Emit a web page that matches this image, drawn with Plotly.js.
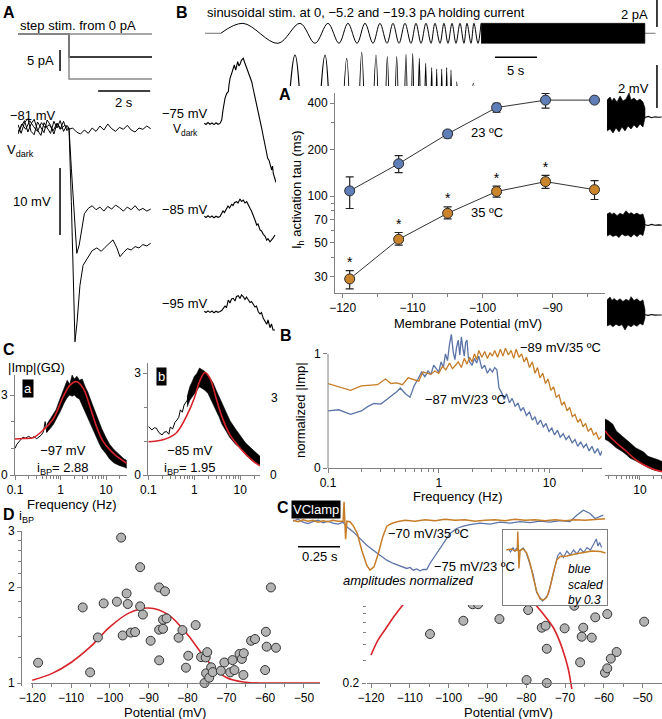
<!DOCTYPE html>
<html><head><meta charset="utf-8">
<script src="https://cdn.plot.ly/plotly-3.0.1.min.js"></script>
<style>html,body{margin:0;padding:0;background:#fff}#fig{width:662px;height:719px}</style>
</head><body><div id="fig"></div>
<script>
// ---------------- DATA ----------------
// A: step stimulus (s, pA)
const stepT = [0, 1.96, 1.96, 5.15];
const stepLevels = [0, -5.5, -10.7];
// A: voltage responses (s, mV)
const a1T = [0,0.15,0.3,0.45,0.6,0.75,0.9,1.05,1.2,1.35,1.5,1.65,1.8,1.95,2.1,2.25,2.4,2.55,2.7,2.85,3.0,3.15,3.3,3.45,3.6,3.75,3.9,4.05,4.2,4.35,4.5,4.65,4.8,4.95,5.1];
const a1V = [-81.6,-80.4,-81.2,-79.9,-80.8,-81.5,-80.2,-81.0,-80.5,-81.4,-80.3,-81.1,-80.6,-81.2,-81.0,-81.6,-81.9,-81.3,-81.8,-81.0,-81.5,-80.7,-81.3,-80.4,-81.1,-81.5,-80.9,-81.2,-80.6,-81.3,-81.6,-81.0,-81.2,-80.7,-81.1];
const a2T = [0,0.12,0.25,0.38,0.5,0.62,0.75,0.88,1.0,1.12,1.25,1.38,1.5,1.62,1.75,1.88,1.96,2.05,2.15,2.26,2.35,2.45,2.55,2.7,2.85,3.0,3.15,3.3,3.45,3.6,3.75,3.9,4.05,4.2,4.35,4.5,4.65,4.8,4.95,5.1];
const a2V = [-80.5,-81.8,-80.2,-79.6,-81.5,-82.0,-80.1,-80.9,-81.7,-79.8,-80.6,-81.9,-80.3,-81.2,-80.0,-81.4,-81,-87,-94,-99.7,-98.5,-96,-93.8,-93.0,-92.6,-93.2,-92.8,-93.4,-92.7,-93.1,-92.5,-92.9,-93.4,-92.8,-93.2,-92.6,-93.3,-93.0,-93.4,-93.1];
const a3T = [0,0.12,0.25,0.38,0.5,0.62,0.75,0.88,1.0,1.12,1.25,1.38,1.5,1.62,1.75,1.88,1.96,2.05,2.12,2.19,2.27,2.38,2.5,2.7,2.85,3.03,3.2,3.35,3.5,3.65,3.8,3.92,4.05,4.2,4.35,4.5,4.65,4.8,4.95,5.1];
const a3V = [-81.9,-80.8,-79.9,-81.6,-80.4,-79.7,-81.3,-82.1,-80.2,-80.9,-81.8,-80.0,-81.0,-79.9,-81.5,-80.6,-81,-92,-104,-112.9,-110,-104.5,-101.5,-100.2,-99.3,-98.9,-99.4,-98.8,-98.2,-97.7,-98.9,-100.2,-99.6,-99.0,-99.2,-98.7,-98.9,-98.4,-98.6,-98.2];

// B: chirp stimulus, extrema times (s) and amplitude (pA)
const chirpT = [0,2.65,6.82,9.44,11.23,12.77,14.08,15.15,16.23,17.18,18.13,18.96,19.80,20.51,21.23,21.94,22.65,23.25,23.85,24.44,25.04,25.51,26.11,26.58,27.06,27.54,28.01,28.49,28.96,29.32,29.80,30.15,30.63,30.99];
const chirpAmp = 0.74;
const chirpBand = [31.0, 50.5];
const chirpPre = [-1.87, 0];
const chirpPost = [50.5, 51.76];

// B: voltage responses (s, mV change from resting level)
const b75T = [-1.952,-1.75,-1.512,-1.274,-1.036,-0.798,-0.56,-0.321,-0.083,0.119,0.274,0.512,0.714,0.905,0.988,1.107,1.31,1.464,1.619,1.786,2.024,2.179,2.298,2.476,2.69,2.833,2.976,3.131,3.286,3.488,3.69,3.845,4.083,4.262,4.476,4.679,4.881,5.036,5.274,5.452,5.595,5.75,5.869,5.988,6.071,6.167,6.262,6.405,6.548,
  7.0,8.845,10.6,12.417,13.7,15.0,15.9,16.786,17.6,18.488,19.2,19.833,20.4,20.952,21.5,22.06,22.45,22.857,23.25,23.643,24.0,24.405,24.76,25.119,25.42,25.714,26.01,26.31,26.6,26.905,27.16,27.417,27.75,28.095,29.0,30.07,31.0];
const b75V = [0.009,-0.047,0.042,-0.033,0.023,-0.051,0.033,-0.037,0.005,0.163,0.628,1.172,1.405,1.479,1.791,2.102,2.335,2.535,2.721,2.488,2.874,2.674,2.753,2.953,3.033,2.86,2.721,2.535,2.409,2.163,1.944,1.651,1.246,0.907,0.474,0.163,-0.224,-0.535,-1.0,-1.233,-1.619,-1.707,-1.86,-2.07,-2.163,-1.977,-2.326,-2.512,-2.698,
  -3.0,3.186,-5,3.186,-5,3.031,-5,3.31,-5,3.186,-5,3.109,-5,3.109,-5,3.217,-5,3.264,-5,3.031,-5,2.8,-5,2.597,-5,2.535,-5,2.535,-5,2.597,-5,2.488,-5,1.944,-5,1.87,-5];
const b85T = [-1.952,-1.75,-1.512,-1.274,-1.036,-0.798,-0.56,-0.321,-0.083,0.119,0.274,0.452,0.714,0.869,1.048,1.31,1.464,1.643,1.905,2.06,2.298,2.476,2.69,2.893,3.095,3.25,3.488,3.667,3.881,4.083,4.286,4.44,4.679,4.857,5.071,5.274,5.476,5.631,5.869,6.048,6.226,6.464];
const b85V = [0.019,-0.037,0.042,-0.033,0.033,-0.051,0.023,-0.028,0.009,0.158,0.265,0.195,0.391,0.498,0.405,0.577,0.521,0.66,0.698,0.637,0.823,0.707,0.777,0.637,0.698,0.544,0.391,0.265,0.079,-0.153,-0.386,-0.34,-0.619,-0.665,-0.819,-0.898,-1.088,-1.019,-1.167,-1.088,-0.995,-0.851];
const b95T = [-1.952,-1.75,-1.512,-1.274,-1.036,-0.798,-0.56,-0.321,-0.083,0.119,0.31,0.512,0.69,0.905,1.107,1.286,1.5,1.702,1.881,2.095,2.298,2.476,2.69,2.893,3.071,3.286,3.488,3.667,3.881,4.083,4.262,4.476,4.679,4.857,5.071,5.274,5.476,5.631,5.869,6.048,6.226,6.464];
const b95V = [0.019,-0.037,0.037,-0.033,0.033,-0.051,0.023,-0.028,0.009,0.056,0.158,0.265,0.195,0.544,0.405,0.591,0.623,0.498,0.707,0.744,0.614,0.777,0.698,0.567,0.684,0.544,0.428,0.474,0.312,0.219,0.265,0.0,-0.107,-0.037,-0.307,-0.479,-0.586,-0.386,-0.744,-0.572,-0.851,-0.851];
// end of the responses: noise envelope (s, mV)
const endUpT = [45.99,46.35,46.58,46.82,47.18,47.54,47.89,48.25,48.61,48.85,49.2,49.56,49.92,50.27,50.51];
const endLoT = [50.51,50.27,49.92,49.56,49.2,48.85,48.49,48.13,47.77,47.42,47.06,46.7,46.35,45.99];
const end75Up = [1.093,1.233,1.047,1.186,1.0,1.279,1.047,1.14,1.419,1.093,1.186,1.047,1.14,1.0,0.721];
const end75Lo = [0.256,-0.163,-0.023,-0.209,-0.07,-0.256,-0.116,-0.349,-0.163,-0.395,-0.209,-0.442,-0.256,-0.349];
const end85Up = [0.12,0.2,0.1,0.18,0.05,0.16,0.09,0.28,0.12,0.19,0.1,0.17,0.08,0.13,-0.2];
const end85Lo = [-0.5,-0.88,-0.8,-0.93,-0.82,-0.95,-0.85,-0.9,-0.8,-0.97,-0.86,-0.92,-0.83,-0.9];
const end95Up = [0.55,0.68,0.52,0.62,0.5,0.6,0.48,0.58,0.5,0.7,0.52,0.6,0.47,0.55,0.1];
const end95Lo = [-0.3,-0.62,-0.55,-0.68,-0.6,-0.7,-0.62,-0.85,-0.6,-0.66,-0.58,-0.7,-0.6,-0.66];
const tailT = [50.51,50.9,51.3,51.7,52.1,52.5];
const tail75 = [0.28,0.33,0.27,0.31,0.29,0.3];
const tail85 = [-0.37,-0.41,-0.36,-0.4,-0.38,-0.39];
const tail95 = [-0.14,-0.17,-0.13,-0.16,-0.15,-0.15];

// overlay A: Ih activation tau
const tauV = [-119,-112,-105,-98,-91,-84];
const tau23 = [108,162,253,375,419,419];
const tau23ep = [25,21,13,25,45,0];
const tau23em = [25,20,15,25,47,0];
const tau35 = [29,52.4,77.3,107,124,110];
const tau35ep = [3.8,5.6,7.7,9,12,16];
const tau35em = [4,4.4,6.3,8.5,12,15];
const starIdx = [0,1,2,3,4];

// overlay B: normalized |Imp|
const impF35 = [0.1,0.125,0.16,0.2,0.25,0.28,0.33,0.37,0.42,0.47,0.53,0.6,0.66,0.72,0.78,0.85,0.92,1.0,1.08,1.16,1.25,1.33,1.42,1.5,1.6,1.7,1.8,1.9,2.0,2.1,2.2,2.3,2.45,2.6,2.75,2.9,3.05,3.2,3.4,3.6,3.8,4.0,4.25,4.5,4.75,5.0,5.3,5.6,5.9,6.2,6.6,7.0,7.4,7.8,8.2,8.7,9.2,9.7,10.3,10.9,11.5,12.2,12.9,13.6,14.4,15.2,16.1,17.0,18.0,19.0,20.1,21.2,22.4,23.7,25.0,26.4,27.9,29.5];
const imp35 = [0.74,0.71,0.68,0.72,0.725,0.73,0.78,0.74,0.745,0.73,0.79,0.77,0.76,0.84,0.83,0.82,0.85,0.83,0.89,0.86,0.92,0.87,0.9,0.93,0.88,0.96,0.91,0.97,0.93,1.0,0.95,1.03,0.97,1.02,0.96,1.01,0.98,1.03,0.97,1.04,0.98,1.05,0.99,1.03,0.96,1.04,0.97,1.0,0.93,0.97,0.88,0.93,0.83,0.88,0.79,0.83,0.74,0.78,0.68,0.71,0.62,0.64,0.55,0.58,0.5,0.53,0.45,0.47,0.4,0.43,0.36,0.39,0.32,0.35,0.29,0.31,0.25,0.28];
const impF23 = [0.1,0.125,0.16,0.2,0.23,0.26,0.3,0.34,0.38,0.42,0.45,0.5,0.55,0.6,0.65,0.7,0.75,0.8,0.85,0.9,0.95,1.0,1.05,1.1,1.15,1.2,1.25,1.3,1.35,1.4,1.45,1.5,1.55,1.6,1.65,1.7,1.75,1.8,1.85,1.9,2.0,2.1,2.2,2.3,2.45,2.6,2.75,2.9,3.05,3.2,3.35,3.5,3.7,3.9,4.1,4.35,4.6,4.9,5.2,5.5,5.8,6.2,6.6,7.0,7.4,7.8,8.3,8.8,9.3,9.9,10.5,11.1,11.8,12.5,13.3,14.1,15.0,16.0,17.0,18.0,19.1,20.3,21.5,22.8,24.2,25.6,27.2,28.8,29.8];
const imp23 = [0.5,0.51,0.47,0.5,0.54,0.565,0.56,0.6,0.64,0.67,0.7,0.65,0.62,0.72,0.78,0.84,0.8,0.85,0.82,0.9,0.87,0.84,0.93,0.88,1.0,0.94,1.08,1.17,1.02,0.95,1.06,1.12,0.99,1.15,1.05,0.98,1.1,1.12,0.97,0.93,0.9,0.96,0.92,0.98,0.87,0.9,0.83,0.87,0.84,0.88,0.86,0.7,0.66,0.6,0.65,0.57,0.61,0.54,0.57,0.5,0.53,0.46,0.49,0.42,0.45,0.38,0.42,0.36,0.39,0.32,0.35,0.29,0.33,0.27,0.3,0.25,0.28,0.22,0.25,0.19,0.23,0.18,0.21,0.15,0.19,0.13,0.17,0.11,0.15];

// overlay C: voltage clamp currents (s, normalized amplitude)
const vc35T = [0,0.030,0.060,0.089,0.119,0.149,0.179,0.208,0.238,0.268,0.298,0.304,0.313,0.321,0.339,0.359,0.383,0.409,0.439,0.458,0.482,0.508,0.534,0.558,0.587,0.619,0.667,0.726,0.786,0.845,0.905,0.964,1.024,1.083,1.143,1.202,1.262,1.321,1.381,1.44,1.5,1.56,1.619,1.679,1.738,1.798,1.857];
const vc35 = [0.014,-0.016,0.024,-0.006,0.014,-0.027,0.004,-0.016,0.014,-0.006,-0.006,0.388,-0.373,-0.006,-0.016,-0.102,-0.257,-0.598,-0.904,-1.006,-0.939,-0.665,-0.327,-0.108,-0.053,-0.016,0.014,-0.006,0.024,0.004,0.035,0.014,0.024,-0.006,0.014,0.024,0.004,0.035,0.014,0.024,0.004,0.024,0.004,0.024,0.014,0.035,0.045];
const vc23T = [0,0.03,0.06,0.089,0.119,0.149,0.179,0.208,0.238,0.268,0.298,0.32,0.359,0.399,0.439,0.478,0.518,0.558,0.597,0.637,0.677,0.697,0.716,0.736,0.756,0.776,0.796,0.815,0.855,0.895,0.935,0.974,1.014,1.054,1.113,1.173,1.232,1.292,1.351,1.411,1.47,1.53,1.589,1.649,1.689,1.728,1.768,1.798,1.827,1.847];
const vc23 = [-0.006,0.035,-0.027,-0.057,-0.016,0.014,-0.037,-0.006,-0.047,-0.067,-0.027,-0.122,-0.224,-0.359,-0.496,-0.598,-0.7,-0.802,-0.869,-0.924,-0.971,-0.95,-1.006,-0.98,-1.02,-0.99,-0.992,-0.869,-0.665,-0.461,-0.257,-0.155,-0.108,-0.078,-0.047,-0.067,-0.027,-0.047,-0.016,-0.037,-0.006,-0.027,0.004,-0.016,0.116,0.218,0.151,0.049,0.082,0.116];
const inT35 = [0.24,0.27,0.29,0.305,0.308,0.315,0.322,0.34,0.36,0.38,0.40,0.42,0.44,0.46,0.48,0.50,0.52,0.54,0.56,0.6,0.65,0.7,0.75,0.8,0.83];
const in35 = [0.0,0.02,-0.02,0.0,0.37,-0.37,0.0,0.02,-0.05,-0.25,-0.55,-0.82,-0.98,-1.0,-0.95,-0.75,-0.45,-0.2,-0.13,-0.12,-0.08,-0.05,-0.02,-0.03,-0.06];
const inT23 = [0.252,0.265,0.28,0.29,0.3,0.32,0.34,0.36,0.38,0.4,0.42,0.44,0.455,0.47,0.49,0.51,0.53,0.545,0.56,0.58,0.6,0.62,0.64,0.66,0.68,0.7,0.72,0.74,0.76,0.775,0.785,0.795,0.807];
const in23 = [0.02,-0.04,0.05,-0.03,0.03,-0.02,0.04,-0.07,-0.28,-0.5,-0.85,-0.96,-1.02,-0.97,-0.88,-0.6,-0.35,-0.12,-0.05,-0.15,-0.02,-0.1,0.0,-0.08,0.03,-0.05,0.05,0.0,0.12,0.22,0.08,0.15,0.05];

// C: impedance profiles (Hz, GOhm)
const caLineF = [0.1,0.11,0.13,0.15,0.17,0.2,0.23,0.26,0.3,0.34,0.38,0.42,0.46,0.5,0.55];
const caLine = [1.0,1.15,1.3,1.42,1.38,1.45,1.38,1.44,1.36,1.42,1.5,1.62,2.0,1.6,1.9];
const caBandF = [0.5,0.6,0.7,0.8,0.9,1.0,1.2,1.4,1.6,1.8,2.0,2.3,2.6,3.0,3.5,4.0,5.0,6.0,7.0,8.0,10,12,15,20,25,28.5];
const caUp = [1.9,2.1,2.3,2.45,2.7,2.9,3.2,3.55,3.4,3.75,3.6,3.7,3.55,3.6,3.3,3.1,2.65,2.3,2.0,1.75,1.4,1.15,0.95,0.75,0.6,0.55];
const caLo = [1.6,1.75,1.9,2.05,2.25,2.4,2.7,2.9,3.0,2.95,3.0,2.9,2.85,2.6,2.35,2.1,1.75,1.45,1.2,1.0,0.8,0.6,0.45,0.35,0.3,0.25];
const caFitF = [0.1,0.15,0.25,0.42,0.7,1.15,1.62,2.26,3.17,4.45,6.2,8.7,14.5,28.5];
const caFit = [1.35,1.37,1.4,1.69,2.12,2.94,3.37,3.5,3.25,2.56,1.81,1.25,0.81,0.44];
const cbLineF = [0.1,0.11,0.12,0.135,0.15,0.17,0.2,0.22,0.25,0.28,0.3,0.34,0.38,0.42,0.46,0.5,0.55,0.6,0.7,0.8];
const cbLine = [1.43,1.37,1.33,1.39,1.38,1.25,1.18,1.26,1.28,1.2,1.41,1.36,1.55,1.62,1.7,1.92,1.85,2.06,2.2,2.5];
const cbBandF = [0.7,0.8,0.9,1.0,1.15,1.3,1.5,1.7,2.0,2.2,2.6,3.0,3.5,4.0,5.0,6.0,8.0,10,13,17,22,27];
const cbUp = [2.3,2.6,2.75,2.9,3.0,3.15,3.1,3.05,2.95,2.85,2.7,2.5,2.3,2.1,1.85,1.6,1.35,1.15,0.95,0.8,0.65,0.55];
const cbLo = [2.0,2.2,2.3,2.4,2.5,2.6,2.55,2.5,2.4,2.3,2.1,1.9,1.7,1.5,1.3,1.1,0.9,0.8,0.6,0.45,0.35,0.3];
const cbFitF = [0.1,0.2,0.4,0.7,1.0,1.3,1.7,2.2,3,4,6,10,20,27];
const cbFit = [0.98,1.03,1.23,1.77,2.26,2.75,3.02,2.85,2.26,1.72,1.18,0.79,0.39,0.27];
const ccBandF = [1.69,2,2.5,3,4,5,6,8,10,12,15,20,25,30.6];
const ccUp = [1.65,1.6,1.5,1.3,1.15,1.05,0.95,0.8,0.72,0.68,0.55,0.5,0.45,0.4];
const ccLo = [1.05,1.0,0.9,0.8,0.7,0.6,0.5,0.42,0.35,0.28,0.22,0.15,0.12,0.1];
const ccFitF = [1.7,2,3,5,8,12,20,30.6];
const ccFit = [1.3,1.18,0.95,0.7,0.45,0.3,0.17,0.1];

// D: band-pass index vs potential
const dV = [-118.5,-107.0,-105.1,-103.1,-101.6,-98.2,-95.7,-95.4,-96.7,-94.6,-93.5,-92.2,-91.5,-89.5,-87.3,-85.8,-87.3,-86.3,-86.3,-85.4,-87.3,-82.3,-81.3,-77.9,-79.8,-80.4,-76.5,-75.3,-74.9,-75.2,-75.6,-74.4,-73.9,-73.5,-71.4,-70.5,-69.0,-68.4,-67.9,-66.6,-66.0,-65.5,-65.6,-63.6,-62.6,-60.0,-59.8,-59.6,-58.5,-57.2,-97.1,-92.2];
const dI = [1.158,1.727,1.080,1.39,1.778,1.80,1.91,1.77,1.41,1.44,1.445,1.74,1.64,1.357,1.995,1.94,1.47,1.48,1.58,1.595,1.178,1.387,1.466,1.52,1.218,1.117,1.206,1.203,1.25,1.072,1.0,1.039,1.12,1.082,1.093,1.16,1.08,1.18,1.098,1.233,1.19,1.24,1.06,1.357,1.374,1.098,1.448,1.30,1.995,1.29,2.86,2.31];
const dFitV = [-120,-115,-110,-105,-100,-95,-90,-85,-80,-75,-70,-65,-60,-55,-50,-45];
const dFit = [1.02,1.07,1.16,1.30,1.50,1.66,1.72,1.64,1.42,1.18,1.04,1.005,1.0,1.0,1.0,1.0];
const d2V = [-104.8,-96.2,-86.9,-79.9,-79.5,-76.0,-75.0,-74.7,-74.7,-70.1,-66.1,-65.3,-65.7,-63.1,-62.2,-59.1,-59.7,-59.1,-58.2,-56.7,-49.6,-93.8,-92.4,-67.6];
const d2Y = [0.486,0.618,0.638,0.211,0.751,0.545,0.565,0.372,0.2,0.539,0.291,0.545,0.463,0.455,0.658,0.698,0.241,0.261,0.311,0.351,0.608,0.834,0.834,0.812];
const d2FitLV = [-120,-118.2,-116.1,-113.8,-112.0,-110];
const d2FitL = [0.332,0.436,0.542,0.686,0.808,0.95];
const d2FitRV = [-79,-77.3,-75.2,-73.1,-71.3,-70.0,-69.1,-68.5,-68];
const d2FitR = [0.95,0.808,0.674,0.552,0.42,0.32,0.253,0.2,0.16];

// ---------------- LAYOUT HELPERS ----------------
const W = 662, H = 719;
const FONT = 'Liberation Sans, Arial, Helvetica, sans-serif';
const px = x => x / W, py = y => 1 - y / H;
const GRAY = '#808080', BLUE = '#5b74a8', ORANGE = '#c67d27', RED = '#d8232a';
const layout = {width: W, height: H, margin: {l:0, r:0, t:0, b:0}, paper_bgcolor: '#fff', plot_bgcolor: 'rgba(0,0,0,0)',
  showlegend: false, font: {family: FONT, size: 12, color: '#000'}, annotations: [], shapes: []};
const data = [];
let nAx = 0;
function axis(xr, yr, xo, yo) {
  nAx++; const k = nAx === 1 ? '' : String(nAx);
  layout['xaxis' + k] = Object.assign({domain: [px(xr[0]), px(xr[1])], anchor: 'y' + k, showgrid: false, zeroline: false, fixedrange: true}, xo);
  layout['yaxis' + k] = Object.assign({domain: [py(yr[1]), py(yr[0])], anchor: 'x' + k, showgrid: false, zeroline: false, fixedrange: true}, yo);
  return {x: 'x' + k, y: 'y' + k};
}
const hid = {visible: false};
const sty = {showline: true, linecolor: GRAY, linewidth: 1, ticks: 'outside', tickcolor: GRAY, ticklen: 4, tickwidth: 1, tickfont: {size: 12, family: FONT}};
const minorT = v => ({tickvals: v, ticks: 'outside', ticklen: 3, tickcolor: GRAY, tickwidth: 1});
function line(ax, x, y, color, width, extra) {
  data.push(Object.assign({type: 'scatter', mode: 'lines', x: x, y: y, xaxis: ax.x, yaxis: ax.y, hoverinfo: 'skip',
    line: {color: color, width: width || 1}}, extra || {}));
}
function band(ax, fu, up, fl, lo, color) {
  data.push({type: 'scatter', mode: 'lines', x: fu.concat(fl), y: up.concat(lo), fill: 'toself', fillcolor: color,
    line: {color: color, width: 0.6}, xaxis: ax.x, yaxis: ax.y, hoverinfo: 'skip'});
}
const rev = a => a.slice().reverse();
function ann(text, x, y, o) {
  layout.annotations.push(Object.assign({text: text, x: px(x), y: py(y), xref: 'paper', yref: 'paper', showarrow: false,
    xanchor: 'left', yanchor: 'middle', font: {size: 13, family: FONT, color: '#000'}}, o || {}));
}
const bold = {font: {size: 16, family: FONT, color: '#000', weight: 'bold'}};
function seg(ax, x0, y0, x1, y1, color, width) {
  layout.shapes.push({type: 'line', xref: ax.x, yref: ax.y, x0: x0, y0: y0, x1: x1, y1: y1, line: {color: color || '#000', width: width || 1.5}});
}

// ---------------- PANEL A (step) ----------------
const aStim = axis([18, 152], [20, 96], Object.assign({range: [0, 5.15]}, hid), Object.assign({range: [-14.76, 3.33]}, hid));
line(aStim, stepT, [0, 0, stepLevels[1], stepLevels[1]], '#000', 1.5);
line(aStim, stepT, [0, 0, stepLevels[0], stepLevels[0]], '#8a8a8a', 1.5);
line(aStim, stepT, [0, 0, stepLevels[2], stepLevels[2]], '#8a8a8a', 1.5);
seg(aStim, 1.615, -3.8, 1.615, -8.8, '#000', 1.5);
seg(aStim, 3.08, -13.57, 5.08, -13.57, '#000', 1.5);
const aV = axis([18, 152], [100, 350], Object.assign({range: [0, 5.15]}, hid), Object.assign({range: [-114.13, -76.82]}, hid));
line(aV, a1T, a1V, '#000', 1);
line(aV, a2T, a2V, '#000', 1);
line(aV, a3T, a3V, '#000', 1);
seg(aV, 1.615, -86.97, 1.615, -96.97, '#000', 1.5);
ann('<b>A</b>', 1, 12, bold);
ann('step stim. from 0 pA', 18, 26);
ann('5 pA', 56, 60, {xanchor: 'right'});
ann('2 s', 124, 103, {xanchor: 'center'});
ann('−81 mV', 8, 116);
ann('V<sub>dark</sub>', 5, 151);
ann('10 mV', 53, 202, {xanchor: 'right'});

// ---------------- PANEL B (sinusoidal) ----------------
const bStim = axis([205, 662], [0, 52], Object.assign({range: [-1.87, 52.54]}, hid), Object.assign({range: [-1.385, 2.47]}, hid));
line(bStim, chirpPre, [0, 0], '#8a8a8a', 1.2);
line(bStim, chirpPost, [0, 0], '#8a8a8a', 1.2);
line(bStim, chirpT, chirpT.map((t, i) => i === 0 ? 0 : (i % 2 ? chirpAmp : -chirpAmp)), '#000', 1, {line: {color: '#000', width: 1, shape: 'spline', smoothing: 1}});
band(bStim, [chirpBand[0], chirpBand[1]], [chirpAmp, chirpAmp], [chirpBand[1], chirpBand[0]], [-chirpAmp, -chirpAmp], '#000');
seg(bStim, 51.94, 2.47, 51.94, 0.47, '#000', 1.5);
ann('<b>B</b>', 174, 13, bold);
ann('sinusoidal stim. at 0, −5.2 and −19.3 pA holding current', 205, 13);
ann('2 pA', 650, 15, {xanchor: 'right'});

const off85 = (123.5 - 216.7) / 21.5, off95 = (123.5 - 311.7) / 21.5;
const bL = axis([203, 276], [45, 345], Object.assign({range: [-2.107, 6.583]}, hid), Object.assign({range: [-10.302, 3.651]}, hid));
line(bL, b75T, b75V, '#000', 1.1);
line(bL, b85T, b85V.map(v => v + off85), '#000', 1.1);
line(bL, b95T, b95V.map(v => v + off95), '#000', 1.1);
const bRow = axis([276, 605], [40, 86], Object.assign({range: [6.583, 45.75]}, hid), Object.assign({range: [1.744, 3.884]}, hid));
line(bRow, b75T, b75V, '#000', 1.1, {line: {color: '#000', width: 1.1, shape: 'spline', smoothing: 1}});
seg(bRow, 32.65, 3.08, 37.65, 3.08, '#000', 1.5);
const bR = axis([603, 662], [45, 345], Object.assign({range: [45.51, 52.54]}, hid), Object.assign({range: [-10.302, 3.651]}, hid));
band(bR, endUpT, end75Up, endLoT, end75Lo, '#000');
band(bR, endUpT, end85Up.map(v => v + off85), endLoT, end85Lo.map(v => v + off85), '#000');
band(bR, endUpT, end95Up.map(v => v + off95), endLoT, end95Lo.map(v => v + off95), '#000');
line(bR, tailT, tail75, '#000', 1.1);
line(bR, tailT, tail85.map(v => v + off85), '#000', 1.1);
line(bR, tailT, tail95.map(v => v + off95), '#000', 1.1);
seg(bR, 51.94, 2.72, 51.94, 0.72, '#000', 1.5);
ann('5 s', 516, 70, {xanchor: 'center'});
ann('2 mV', 651, 89, {xanchor: 'right'});
ann('−75 mV', 209, 114, {xanchor: 'right'});
ann('V<sub>dark</sub>', 171, 130, {font: {size: 12, family: FONT}});
ann('−85 mV', 209, 209, {xanchor: 'right'});
ann('−95 mV', 209, 304, {xanchor: 'right'});

// ---------------- C (impedance, underlying) ----------------
const ca = axis([15, 126.7], [375, 475],
  Object.assign({}, sty, {type: 'log', range: [-1, Math.log10(28.5)], tickvals: [0.1, 1, 10], ticktext: ['0.1', '1', '10'], minor: minorT([0.2,0.3,0.4,0.5,0.6,0.7,0.8,0.9,2,3,4,5,6,7,8,9,20])}),
  Object.assign({}, sty, {range: [0, 3.75], tickvals: [0, 3], ticktext: ['0', '3'], minor: minorT([1, 2])}));
line(ca, caLineF, caLine, '#000', 1);
band(ca, caBandF, caUp, rev(caBandF), rev(caLo), '#000');
line(ca, caFitF, caFit, RED, 1.6, {line: {color: RED, width: 1.6, shape: 'spline'}});
const cb = axis([148.3, 260], [363, 475],
  Object.assign({}, sty, {type: 'log', range: [-1, Math.log10(27)], tickvals: [0.1, 1, 10], ticktext: ['0.1', '1', '10'], minor: minorT([0.2,0.3,0.4,0.5,0.6,0.7,0.8,0.9,2,3,4,5,6,7,8,9,20])}),
  Object.assign({}, sty, {range: [0, 3.3], tickvals: [0, 3], ticktext: ['0', '3'], minor: minorT([1, 2])}));
line(cb, cbLineF, cbLine, '#000', 1);
band(cb, cbBandF, cbUp, rev(cbBandF), rev(cbLo), '#000');
line(cb, cbFitF, cbFit, RED, 1.6, {line: {color: RED, width: 1.6, shape: 'spline'}});
const cc = axis([605, 662], [400, 475],
  Object.assign({}, sty, {type: 'log', range: [Math.log10(1.69), Math.log10(30.6)], tickvals: [10], ticktext: ['10'], minor: minorT([2,3,4,5,6,7,8,9,20,30])}),
  Object.assign({range: [0, 2.21]}, hid));
band(cc, ccBandF, ccUp, rev(ccBandF), rev(ccLo), '#000');
line(cc, ccFitF, ccFit, RED, 1.6, {line: {color: RED, width: 1.6, shape: 'spline'}});
ann('<b>C</b>', 1, 349, bold);
ann('|Imp|(GΩ)', 6, 367);
ann('a', 27.5, 388, {xanchor: 'center', bgcolor: '#000', font: {size: 13, family: FONT, color: '#fff'}, borderpad: 1});
ann('b', 161.5, 377, {xanchor: 'center', bgcolor: '#000', font: {size: 13, family: FONT, color: '#fff'}, borderpad: 1});
ann('−97 mV<br>i<sub>BP</sub>= 2.88', 63, 460, {xanchor: 'center'});
ann('−85 mV<br>i<sub>BP</sub>= 1.95', 190, 460, {xanchor: 'center'});
ann('Frequency (Hz)', 72, 504, {xanchor: 'center'});
ann('3', 274, 398, {xanchor: 'center', font: {size: 12, family: FONT}});
ann('0', 273, 475, {xanchor: 'center', font: {size: 12, family: FONT}});

// ---------------- D (underlying) ----------------
const dl = axis([30.7, 320], [531, 686],
  Object.assign({}, sty, {anchor: 'free', position: py(683), range: [-120.41, -45.85], tickvals: [-120,-110,-100,-90,-80,-70,-60,-50], minor: minorT([-115,-105,-95,-85,-75,-65,-55])}),
  Object.assign({}, sty, {anchor: 'free', position: px(21), type: 'log', range: [-3 / 319, Math.log10(3)], tickvals: [1, 2, 3], minor: minorT([1.2,1.4,1.6,1.8,2.2,2.4,2.6,2.8])}));
line(dl, dFitV, dFit, RED, 1.6, {line: {color: RED, width: 1.6, shape: 'spline'}});
data.push({type: 'scatter', mode: 'markers', x: dV, y: dI, xaxis: dl.x, yaxis: dl.y, cliponaxis: false, hoverinfo: 'skip',
  marker: {size: 9, color: '#b3b3b3', line: {color: '#333', width: 1}}});
const dr = axis([366.7, 662], [605, 689],
  Object.assign({}, sty, {anchor: 'free', position: py(683), range: [-121.11, -45.0], tickvals: [-120,-110,-100,-90,-80,-70,-60,-50], minor: minorT([-115,-105,-95,-85,-75,-65,-55])}),
  Object.assign({}, sty, {showline: false, type: 'log', range: [-0.7462, -0.0848], tickvals: [0.2], ticktext: ['0.2'], minor: minorT([0.3,0.4,0.5,0.6,0.7,0.8,0.9])}));
layout.shapes.push({type: 'line', xref: 'paper', yref: dr.y, x0: px(366.7), x1: px(366.7), y0: Math.log10(0.2), y1: -0.0848, line: {color: GRAY, width: 1}});
line(dr, d2FitLV, d2FitL, RED, 1.6, {line: {color: RED, width: 1.6, shape: 'spline'}});
line(dr, d2FitRV, d2FitR, RED, 1.6, {line: {color: RED, width: 1.6, shape: 'spline'}});
data.push({type: 'scatter', mode: 'markers', x: d2V, y: d2Y, xaxis: dr.x, yaxis: dr.y, hoverinfo: 'skip',
  marker: {size: 9, color: '#b3b3b3', line: {color: '#333', width: 1}}});
ann('<b>D</b>', 1, 514, bold);
ann('i<sub>BP</sub>', 17, 516);
ann('Potential (mV)', 165, 712, {xanchor: 'center'});
ann('Potential (vmV)', 508, 712, {xanchor: 'center'});

// ---------------- overlay A: tau ----------------
const ta = axis([335, 605], [93, 293],
  Object.assign({}, sty, {range: [-121.1, -82.5], tickvals: [-120,-110,-100,-90], minor: minorT([-115,-105,-95,-85])}),
  Object.assign({}, sty, {type: 'log', range: [Math.log10(23.5), Math.log10(466)], tickvals: [30,50,70,100,200,400], minor: minorT([40,60,80,90,300])}));
const mk = c => ({size: 10, color: c, line: {color: '#2b2b2b', width: 1}});
data.push({type: 'scatter', mode: 'lines+markers', x: tauV, y: tau23, xaxis: ta.x, yaxis: ta.y, hoverinfo: 'skip', cliponaxis: false,
  line: {color: '#333', width: 1}, marker: mk('#5f7db6'),
  error_y: {type: 'data', symmetric: false, array: tau23ep, arrayminus: tau23em, color: '#222', thickness: 1.2, width: 4}});
data.push({type: 'scatter', mode: 'lines+markers', x: tauV, y: tau35, xaxis: ta.x, yaxis: ta.y, hoverinfo: 'skip', cliponaxis: false,
  line: {color: '#333', width: 1}, marker: mk('#c9842c'),
  error_y: {type: 'data', symmetric: false, array: tau35ep, arrayminus: tau35em, color: '#222', thickness: 1.2, width: 4}});
data.push({type: 'scatter', mode: 'text', x: starIdx.map(i => tauV[i]), y: starIdx.map(i => tau35[i] + tau35ep[i]), text: starIdx.map(() => '*'),
  textposition: 'top center', textfont: {size: 14, family: FONT, color: '#000'}, xaxis: ta.x, yaxis: ta.y, hoverinfo: 'skip', cliponaxis: false});
ann('<b>A</b>', 277, 94, bold);
ann('23 ºC', 469, 132);
ann('35 ºC', 469, 213);
ann('Membrane Potential (mV)', 468, 323, {xanchor: 'center'});
ann('I<sub>h</sub> activation tau (ms)', 297, 190, {xanchor: 'center', textangle: -90});

// ---------------- overlay B: normalized impedance ----------------
const nb = axis([328, 602], [331, 468],
  Object.assign({}, sty, {type: 'log', range: [-1, Math.log10(29.8)], tickvals: [0.1, 1, 10], ticktext: ['0.1', '1', '10'], minor: minorT([0.2,0.3,0.4,0.5,0.6,0.7,0.8,0.9,2,3,4,5,6,7,8,9,20])}),
  Object.assign({}, sty, {showline: false, range: [0, 1.2], tickvals: [0, 1], ticktext: ['0', '1']}));
layout.shapes.push({type: 'line', xref: 'paper', yref: nb.y, x0: px(328), x1: px(328), y0: 0, y1: 1, line: {color: GRAY, width: 1}});
line(nb, impF23, imp23, BLUE, 1.3);
line(nb, impF35, imp35, ORANGE, 1.3);
ann('<b>B</b>', 278, 335, bold);
ann('normalized |Imp|', 300, 410, {xanchor: 'center', textangle: -90});
ann('Frequency (Hz)', 458, 496, {xanchor: 'center'});
ann('−89 mV/35 ºC', 518, 347);
ann('−87 mV/23 ºC', 423, 399);

// ---------------- overlay C: voltage clamp ----------------
const vc = axis([293, 607], [498, 575], Object.assign({range: [0, 1.869]}, hid), Object.assign({range: [-1.104, 0.467]}, hid));
line(vc, vc23T, vc23, BLUE, 1.3);
line(vc, vc35T, vc35, ORANGE, 1.5);
seg(vc, 0.03, -0.53, 0.28, -0.53, '#000', 1.5);
const inx = axis([503, 607], [530, 605],
  {range: [0.22, 0.839], showline: true, mirror: true, linecolor: GRAY, linewidth: 1, ticks: '', showticklabels: false},
  {range: [-1.1, 0.4], showline: true, mirror: true, linecolor: GRAY, linewidth: 1, ticks: '', showticklabels: false});
line(inx, inT23, in23, BLUE, 1.2);
line(inx, inT35, in35, ORANGE, 1.4);
ann('<b>C</b>', 275, 507, bold);
ann('VClamp', 316, 509, {xanchor: 'center', bgcolor: '#000', font: {size: 13, family: FONT, color: '#fff'}, borderpad: 1});
ann('0.25 s', 320, 556, {xanchor: 'center'});
ann('−70 mV/35 ºC', 386, 533);
ann('−75 mV/23 ºC', 432, 566);
ann('<i>amplitudes normalized</i>', 341, 580);
ann('<i>blue<br>scaled<br>by 0.3</i>', 566, 584, {align: 'left', font: {size: 12, family: FONT}});

Plotly.newPlot('fig', data, layout, {staticPlot: true, displayModeBar: false});
</script></body></html>
